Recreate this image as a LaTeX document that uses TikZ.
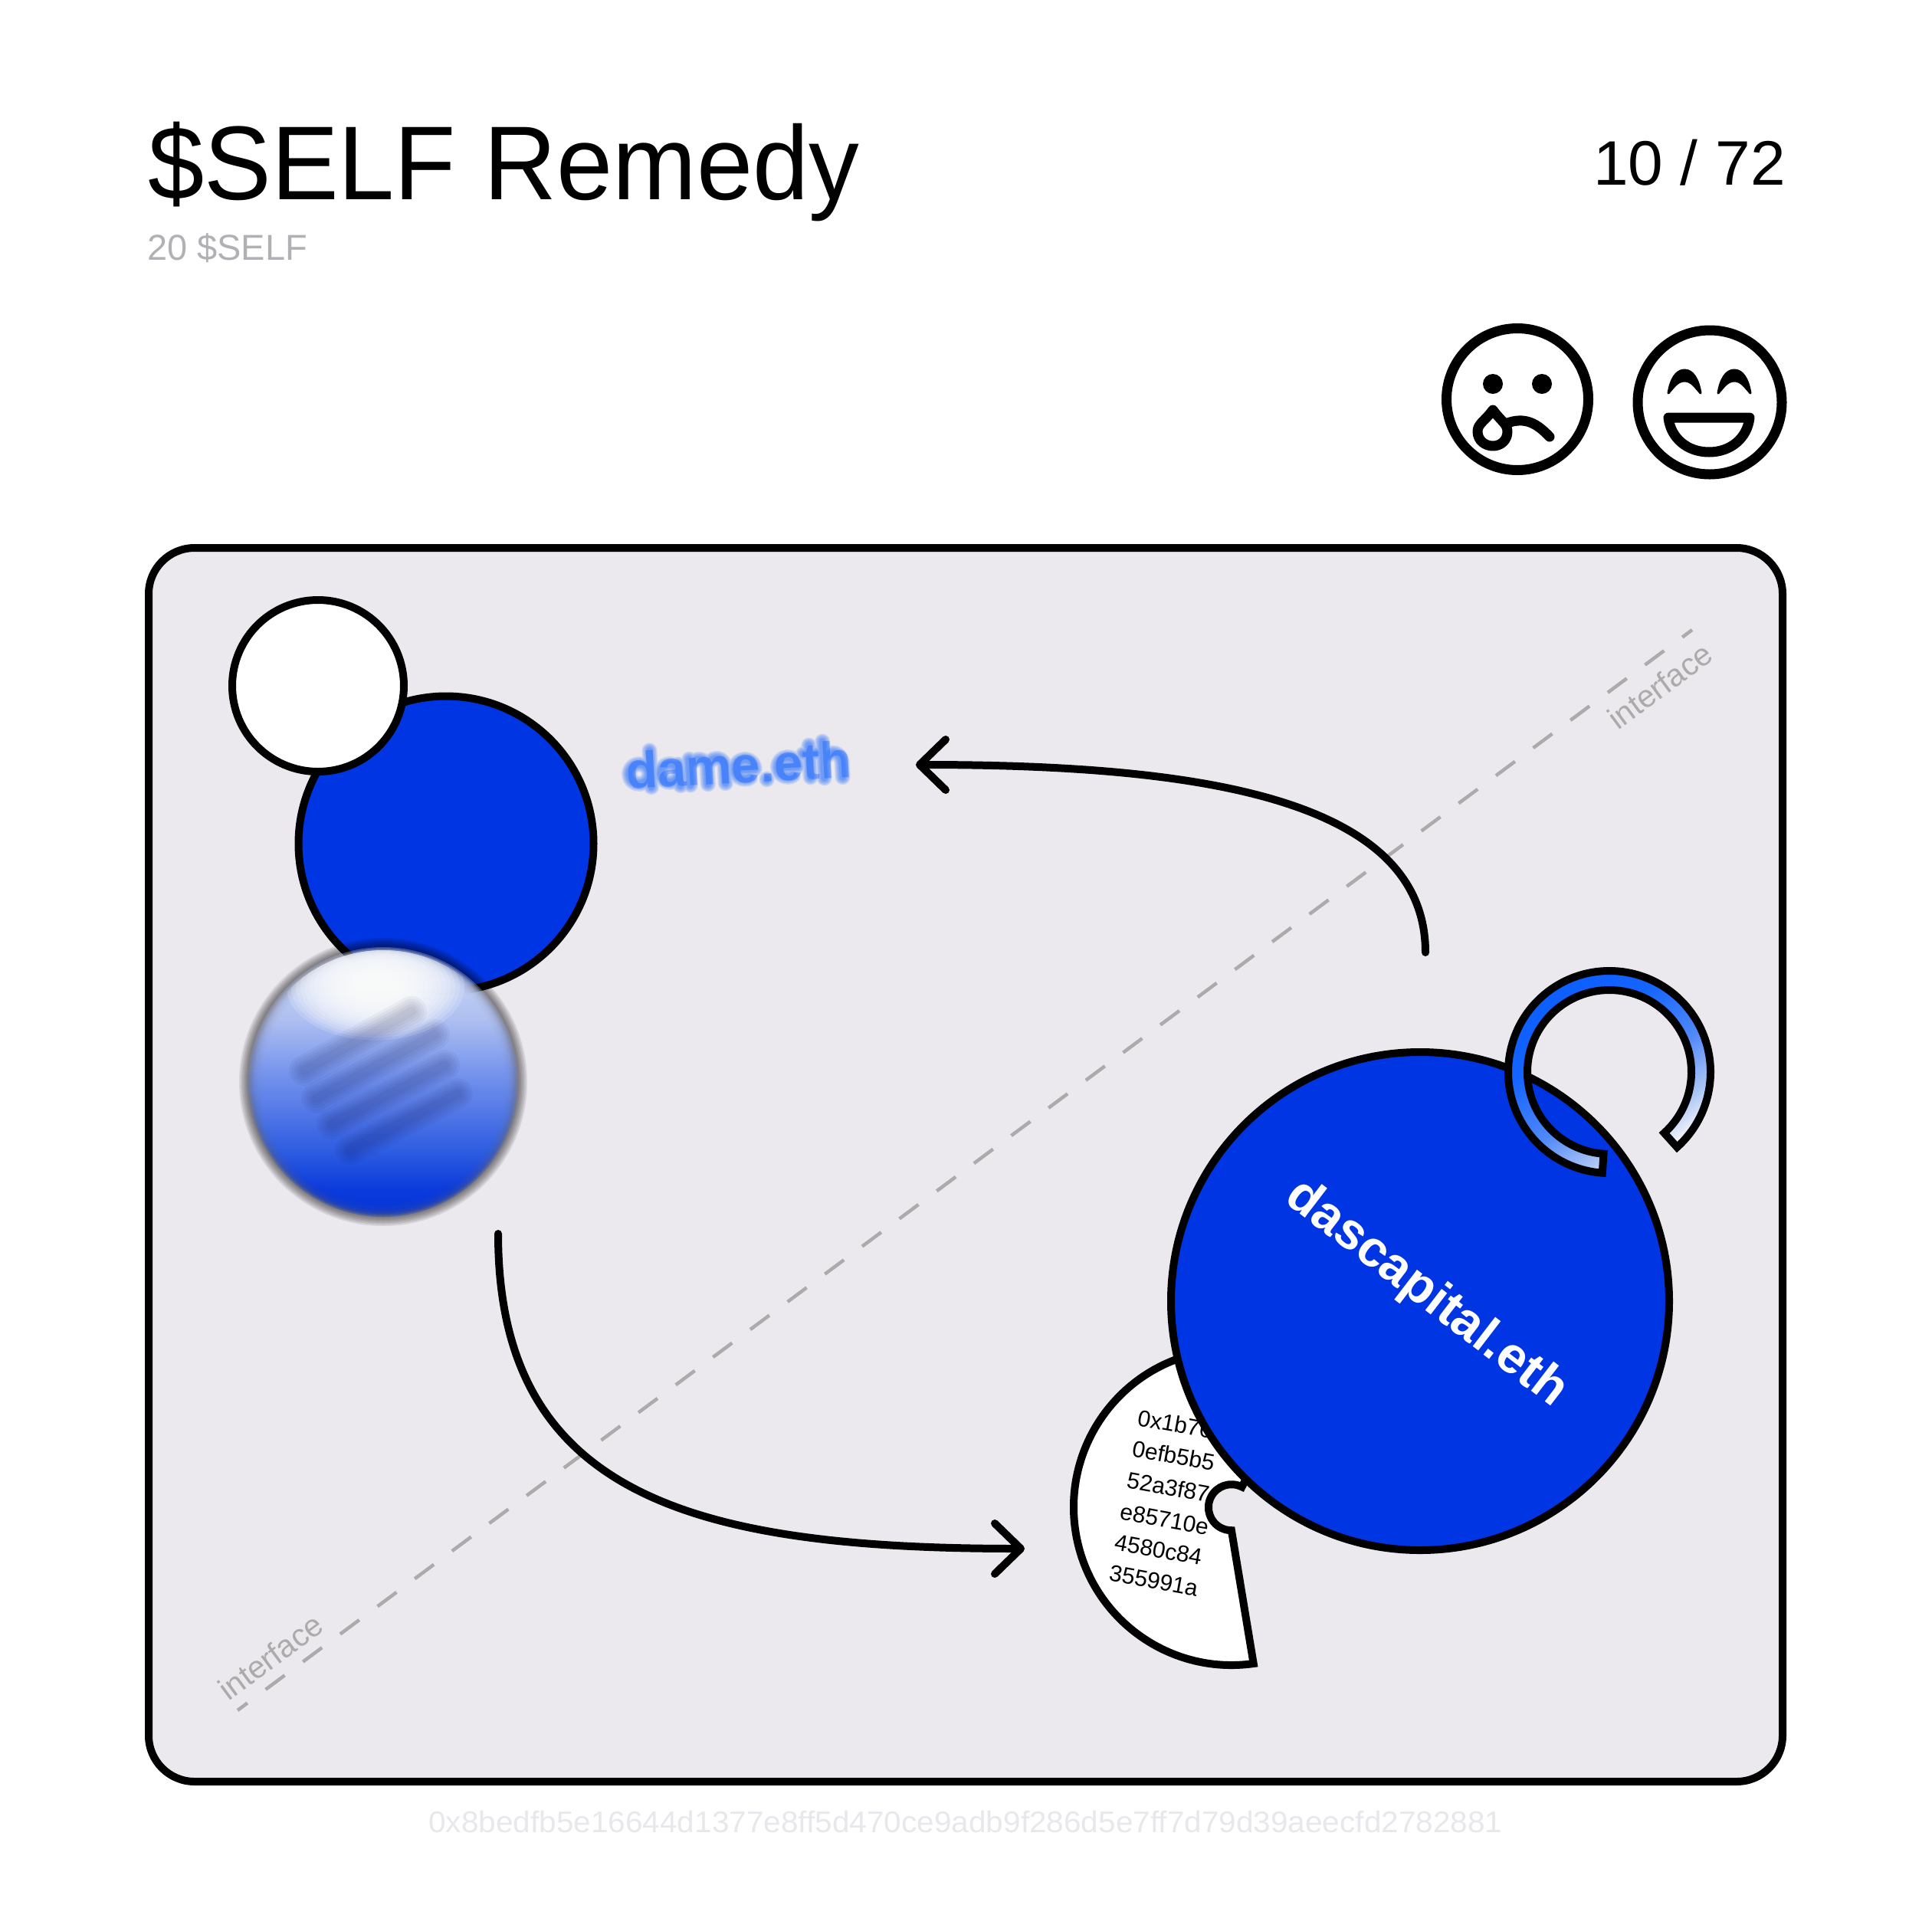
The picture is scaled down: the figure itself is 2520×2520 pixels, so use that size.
\documentclass[tikz,border=0pt]{standalone}
\usepackage{fontspec}
\setmainfont{Liberation Sans}
\newfontfamily\titlefont[FakeStretch=0.96]{Liberation Sans}
\newfontfamily\hashfont[FakeStretch=1.04]{Liberation Sans}
\usetikzlibrary{arrows.meta,calc}
\definecolor{panelgray}{HTML}{EBE9ED}
\definecolor{royal}{HTML}{0035E3}
\definecolor{bright}{HTML}{0F60FF}
\definecolor{dashgray}{HTML}{ABABAB}
\definecolor{subgray}{HTML}{B2B0B4}
\definecolor{hashgray}{HTML}{E9E7EB}
\definecolor{ba}{HTML}{0033DD}
\definecolor{bb}{HTML}{0A3BE0}
\definecolor{bc}{HTML}{3A68E8}
\definecolor{bd}{HTML}{7A98F2}
\definecolor{be}{HTML}{B0C2F6}
\definecolor{bf}{HTML}{C8D5F8}
\definecolor{ra}{HTML}{0A5CFF}
\definecolor{rb}{HTML}{1464FF}
\definecolor{rc}{HTML}{4F88F8}
\definecolor{rd}{HTML}{8AAEF8}
\definecolor{re}{HTML}{A8C4F4}
\definecolor{rf}{HTML}{F4F4FA}
\pgfdeclareverticalshading{blurball}{100bp}{
 color(0bp)=(ba);
 color(25bp)=(ba);
 color(31bp)=(bb);
 color(40bp)=(bc);
 color(52bp)=(bd);
 color(61bp)=(be);
 color(68bp)=(bf);
 color(100bp)=(bf)}
\pgfdeclarehorizontalshading{ringshade}{100bp}{
 color(0bp)=(ra);
 color(25bp)=(ra);
 color(40bp)=(rb);
 color(55bp)=(rc);
 color(62bp)=(rd);
 color(66bp)=(re);
 color(73bp)=(rf);
 color(100bp)=(rf)}
\tikzset{
 ink/.style={draw=black,line width=10pt},
 face/.style={draw=black,line width=13pt},
 link/.style={draw=black,line width=10pt,line cap=round,-{Straight Barb[length=34pt,width=66pt,round]}},
 iface/.style={font=\fontsize{41}{41}\selectfont,text=dashgray,inner sep=0pt},
 hexline/.style={font=\fontsize{30}{30}\selectfont,text=black,inner sep=0pt,anchor=base west,rotate=-10.4},
 skeleton/.style={draw=bright,line cap=round,line join=round},
}
\newcommand{\dameskeleton}{
 (18,-18) circle[radius=13] (33,-48) -- (33,0)
 (58,-17) circle[radius=12] (69,-28) -- (71,0)
 (84,-34) -- (84,0) (84,-24) .. controls (90,-36) and (104,-36) .. (107,-24) -- (107,0)
 (107,-24) .. controls (113,-36) and (127,-36) .. (130,-24) -- (130,0)
 (143,-17) -- (169,-17) arc[start angle=0,end angle=-300,radius=13]
 (184,-3) -- (184,-2)
 (199,-17) -- (225,-17) arc[start angle=0,end angle=-300,radius=13]
 (241,-44) -- (241,-2) (233,-33) -- (251,-33)
 (259,-48) -- (259,0) (259,-22) .. controls (265,-36) and (281,-36) .. (283,-20) -- (283,0)
}
\begin{document}
\begin{tikzpicture}[x=1pt,y=-1pt]
\useasboundingbox (0,0) rectangle (2520,2520);
\fill[white] (0,0) rectangle (2520,2520);
% header
\node[anchor=base west,inner sep=0pt,font=\titlefont\fontsize{137}{137}\selectfont] (title) at (193,260) {\$SELF Remedy};
\node[anchor=base west,inner sep=0pt,text=subgray,font=\fontsize{47}{47}\selectfont] (sub) at (192,339) {20 \$SELF};
\node[anchor=base east,inner sep=0pt,font=\fontsize{82}{82}\selectfont] (count) at (2330,241) {10 / 72};
% sad face
\draw[face] (1980,521) circle[radius=92.5];
\fill (1948,501) circle[radius=13] (2012,501) circle[radius=13];
\draw[face,line cap=round] (1967,552) .. controls (1990,544) and (2005,552) .. (2022,570);
\draw[face,line join=round,fill=white] (1948,535) .. controls (1938,549) and (1928,553) .. (1928,563) .. controls (1928,575) and (1938,582) .. (1948,582) .. controls (1958,582) and (1967,575) .. (1967,563) .. controls (1967,553) and (1958,549) .. (1948,535) -- cycle;
% happy face
\draw[face] (2231,525) circle[radius=94];
\foreach \dx in {0,65}{
 \begin{scope}[shift={(\dx,0)}]
 \fill[line join=round,draw=black,line width=3pt] (2177,513) .. controls (2180,495) and (2187,483) .. (2198,483) .. controls (2209,483) and (2216,495) .. (2219,513) .. controls (2212,505) and (2207,497) .. (2198,497) .. controls (2189,497) and (2184,505) .. (2177,513) -- cycle;
 \end{scope}
}
\draw[face,line join=round] (2177,545) -- (2283,545) .. controls (2280,572) and (2258,590) .. (2230,590) .. controls (2202,590) and (2180,572) .. (2177,545) -- cycle;
% panel
\draw[ink,fill=panelgray,rounded corners=60pt] (194,715) rectangle (2326,2325);
% dashed line
\coordinate (dashA) at (2208,822);
\coordinate (dashB) at (310,2232);
\draw[dashgray,line width=4.5pt,dash pattern=on 31pt off 29.6pt,dash phase=15pt] (dashA) -- (dashB);
\node[iface,rotate=36.4] (ifaceA) at (2166,895) {interface};
\node[iface,rotate=36.4] (ifaceB) at (353,2162) {interface};
% top-left circles
\node[circle,ink,fill=royal,minimum size=385pt,inner sep=0pt] (dame) at (582,1101) {};
\node[circle,ink,fill=white,minimum size=224pt,inner sep=0pt] (whitedot) at (415,895) {};
% soft halo of the blurred label, then the label itself
\begin{scope}[shift={(817,1029)},rotate=3]
 \foreach \w in {20,17,14,11,8}{
  \draw[skeleton,line width=\w pt,opacity=.15] \dameskeleton;
 }
\end{scope}
\node[inner sep=0pt,text=bright,text opacity=.4,rotate=3,font=\bfseries\fontsize{67}{67}\selectfont] (damelabel) at (964,998) {dame.eth};
% blurred ball
\foreach \r in {188,186,...,172}{\fill[black,opacity=.09] (500,1412) circle[radius=\r];}
\foreach \r in {176,174,...,158}{
 \begin{scope}
 \clip (500,1412) circle[radius=\r];
 \shade[shading=blurball,opacity=.3] (300,1230) rectangle (700,1595);
 \end{scope}
}
\begin{scope}
 \clip (500,1412) circle[radius=172];
 \foreach \r in {116,110,...,32}{\fill[white,opacity=.16] (490,1288) ellipse[x radius=\r,y radius=.6*\r];}
\end{scope}
\foreach \ax/\ay/\bx/\by in {397/1397/537/1320,413/1433/567/1350,433/1467/580/1390,457/1500/597/1427}{
 \foreach \w in {40,33,26,19,12}{
  \draw[black!80!blue,line width=\w pt,line cap=round,opacity=.04] (\ax,\ay) -- (\bx,\by);
 }
}
% arrows
\coordinate (a1s) at (1860,1243);
\coordinate (a1e) at (1195,998);
\coordinate (a2s) at (650,1610);
\coordinate (a2e) at (1337,2021);
\draw[link] (a1s) .. controls (1860,1040) and (1560,998) .. (a1e);
\draw[link] (a2s) .. controls (650,1950) and (900,2021) .. (a2e);
% sector
\draw[ink,fill=white,line join=miter] (1607,1967) ++(82:206) arc[start angle=82,end angle=297,radius=206] -- ++(-80,157) arc[start angle=-63,end angle=-270,radius=30] -- cycle;
\node[hexline] (h1) at (1483,1860) {0x1b76};
\node[hexline] (h2) at (1476,1900) {0efb5b5};
\node[hexline] (h3) at (1469,1941) {52a3f87};
\node[hexline] (h4) at (1460,1982) {e85710e};
\node[hexline] (h5) at (1453,2022) {4580c84};
\node[hexline] (h6) at (1446,2062) {355991a};
% big circle
\node[circle,ink,fill=royal,minimum size=650pt,inner sep=0pt] (das) at (1853,1698) {};
\node[inner sep=0pt,text=white,rotate=-37.5,font=\bfseries\fontsize{66.5}{66.5}\selectfont] (daslabel) at (1861,1689) {dascapital.eth};
% ring
\shade[shading=ringshade,shading angle=-55,draw=black,line width=10pt,line join=miter]
 (2100,1399) ++(48:132) arc[start angle=48,end angle=-266,radius=132] -- ++(-266:-25) arc[start angle=-266,end angle=48,radius=107] -- cycle;
% footer
\node[anchor=base,inner sep=0pt,text=hashgray,font=\hashfont\fontsize{39}{39}\selectfont] (hash) at (1260,2391) {0x8bedfb5e16644d1377e8ff5d470ce9adb9f286d5e7ff7d79d39aeecfd2782881};
\end{tikzpicture}
\end{document}
